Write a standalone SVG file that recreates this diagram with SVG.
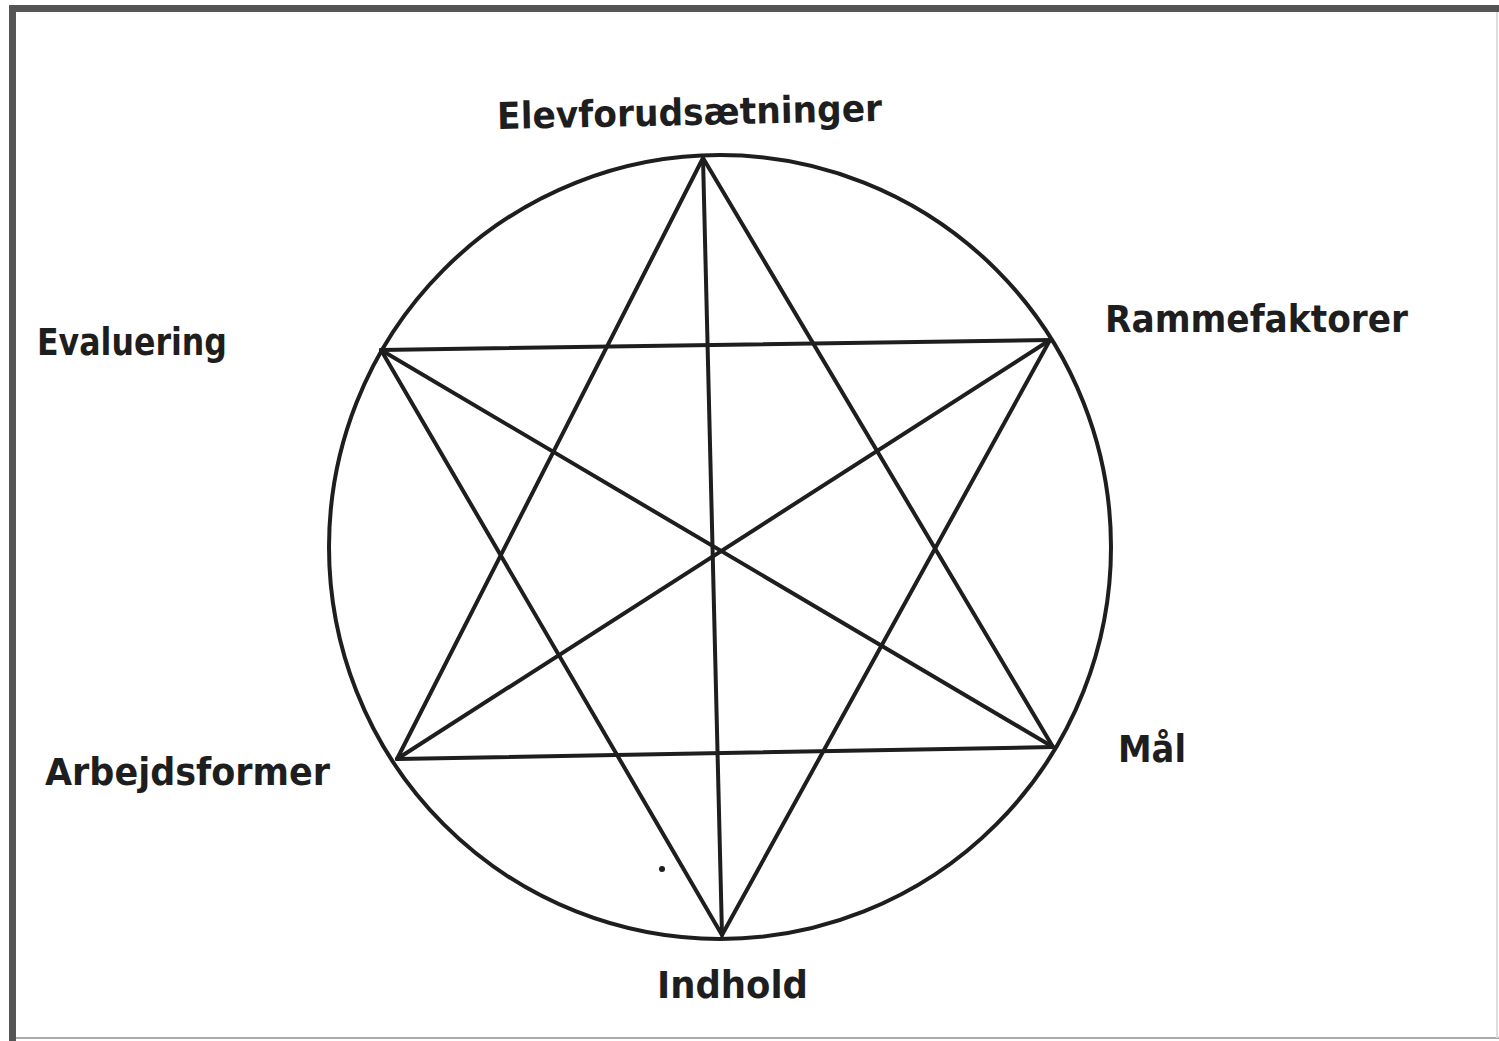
<svg xmlns="http://www.w3.org/2000/svg" width="1499" height="1041" viewBox="0 0 1499 1041">
<style>
.lbl{font-family:"DejaVu Sans","Liberation Sans",sans-serif;font-weight:bold;fill:#1e1e1e;font-size:37px}
.ln{stroke:#1e1e1e;stroke-width:4;fill:none;stroke-linecap:round}
</style>
<rect x="0" y="0" width="1499" height="1041" fill="#ffffff"/>
<g id="frame">
<rect x="9" y="5" width="1500" height="7" fill="#555"/>
<rect x="9" y="5" width="7" height="1036" fill="#555"/>
<line x1="16" y1="1038" x2="1499" y2="1038" stroke="#aaa" stroke-width="2"/>
<line x1="1497" y1="12" x2="1497" y2="1038" stroke="#ddd" stroke-width="2"/>
</g>
<g id="circle">
<ellipse cx="720" cy="547" rx="391" ry="392" class="ln"/>
</g>
<g id="connectors">
<line class="ln" x1="703" y1="158" x2="397" y2="759"/>
<line class="ln" x1="703" y1="158" x2="1053" y2="747"/>
<line class="ln" x1="703" y1="158" x2="722" y2="935"/>
<line class="ln" x1="381" y1="350" x2="1050" y2="340"/>
<line class="ln" x1="381" y1="350" x2="1053" y2="747"/>
<line class="ln" x1="381" y1="350" x2="722" y2="935"/>
<line class="ln" x1="1050" y1="340" x2="397" y2="759"/>
<line class="ln" x1="1050" y1="340" x2="722" y2="935"/>
<line class="ln" x1="397" y1="759" x2="1053" y2="747"/>
</g>
<g id="mark"><circle cx="662" cy="869" r="3" fill="#1e1e1e"/></g>
<g id="n-elev"><text class="lbl" x="497" y="125" textLength="385" lengthAdjust="spacingAndGlyphs" transform="rotate(-1.2 690 110)">Elevforudsætninger</text></g>
<g id="n-ramme"><text class="lbl" x="1105" y="332" textLength="303" lengthAdjust="spacingAndGlyphs">Rammefaktorer</text></g>
<g id="n-eval"><text class="lbl" x="37" y="355" textLength="190" lengthAdjust="spacingAndGlyphs">Evaluering</text></g>
<g id="n-arb"><text class="lbl" x="45" y="785" textLength="285" lengthAdjust="spacingAndGlyphs">Arbejdsformer</text></g>
<g id="n-maal"><text class="lbl" x="1118" y="762" textLength="68" lengthAdjust="spacingAndGlyphs">Mål</text></g>
<g id="n-indhold"><text class="lbl" x="657" y="998" textLength="151" lengthAdjust="spacingAndGlyphs">Indhold</text></g>
</svg>
